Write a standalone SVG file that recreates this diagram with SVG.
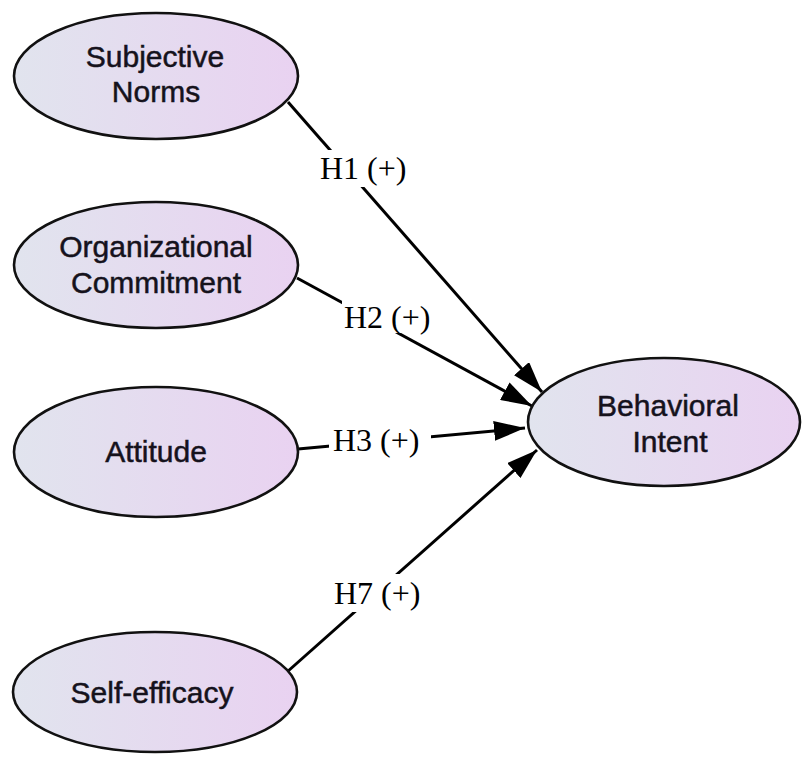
<svg xmlns="http://www.w3.org/2000/svg" width="802" height="759" viewBox="0 0 802 759">
  <defs>
    <linearGradient id="nodeFill" x1="0" y1="0" x2="1" y2="0">
      <stop offset="0" stop-color="#e1e4ee"/>
      <stop offset="1" stop-color="#e9d2f1"/>
    </linearGradient>
    <marker id="arrow" markerUnits="userSpaceOnUse" markerWidth="32" markerHeight="20" refX="31" refY="10" orient="auto">
      <path d="M0,0 L31,10 L0,20 Z" fill="#000"/>
    </marker>
  </defs>
  <style>
    .node ellipse { fill: url(#nodeFill); stroke: #111; stroke-width: 2.6; }
    .node text { font-family: "Liberation Sans", Arial, sans-serif; font-size: 30px; fill: #15121c; stroke: #15121c; stroke-width: 0.5; text-anchor: middle; }
    .edge { stroke: #000; stroke-width: 3; fill: none; marker-end: url(#arrow); }
    .label rect { fill: #fff; }
    .label text { font-family: "Liberation Serif", "Times New Roman", serif; font-size: 32px; fill: #000; }
  </style>
  <rect width="802" height="759" fill="#fff"/>

  <g id="connectors">
    <line class="edge" x1="288" y1="102" x2="542" y2="392"/>
    <line class="edge" x1="297" y1="278" x2="532" y2="406"/>
    <line class="edge" x1="298" y1="449" x2="525" y2="428"/>
    <line class="edge" x1="287" y1="672" x2="537" y2="450"/>
    <g class="label" id="label-h1">
      <rect x="318" y="150" width="90" height="37"/>
      <text x="320" y="179">H1 (+)</text>
    </g>
    <g class="label" id="label-h2">
      <rect x="342" y="300" width="89" height="33"/>
      <text x="344" y="328">H2 (+)</text>
    </g>
    <g class="label" id="label-h3">
      <rect x="329" y="428" width="102" height="32"/>
      <text x="333" y="451">H3 (+)</text>
    </g>
    <g class="label" id="label-h7">
      <rect x="332" y="574" width="90" height="38"/>
      <text x="334" y="604">H7 (+)</text>
    </g>
  </g>

  <g id="subjective-norms" class="node">
    <ellipse cx="156" cy="76" rx="142" ry="63"/>
    <text x="155" y="67">Subjective</text>
    <text x="156" y="102">Norms</text>
  </g>

  <g id="organizational-commitment" class="node">
    <ellipse cx="156" cy="265" rx="142" ry="63"/>
    <text x="156" y="257">Organizational</text>
    <text x="156" y="293">Commitment</text>
  </g>

  <g id="attitude" class="node">
    <ellipse cx="156" cy="452" rx="142" ry="65"/>
    <text x="156" y="462">Attitude</text>
  </g>

  <g id="self-efficacy" class="node">
    <ellipse cx="155" cy="692" rx="142" ry="60"/>
    <text x="152" y="703">Self-efficacy</text>
  </g>

  <g id="behavioral-intent" class="node">
    <ellipse cx="664" cy="422" rx="136" ry="64"/>
    <text x="668" y="416">Behavioral</text>
    <text x="670" y="452">Intent</text>
  </g>
</svg>
